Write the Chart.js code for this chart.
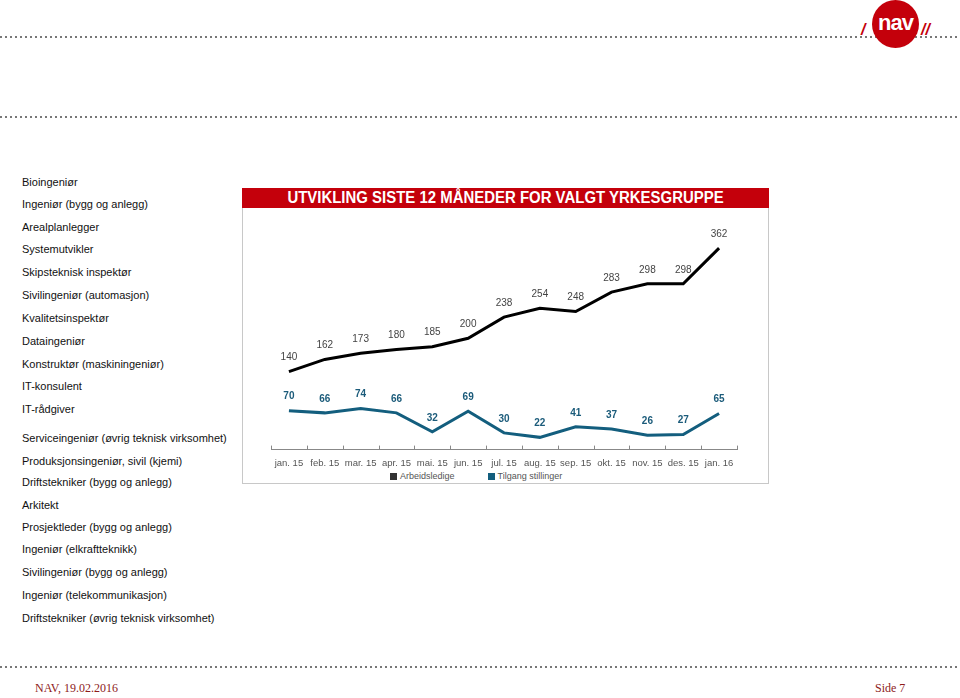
<!DOCTYPE html>
<html>
<head>
<meta charset="utf-8">
<script src="https://cdn.jsdelivr.net/npm/chart.js@4.4.1/dist/chart.umd.min.js"></script>
<style>
    html, body {margin: 0; padding: 0; background: #fff;}
    body {width: 960px; height: 698px; position: relative; overflow: hidden; font-family: "Liberation Sans", Arial, sans-serif;}
    .dots {position: absolute; left: 0; width: 960px; height: 2px;
        background-image: linear-gradient(to right, #777 2px, transparent 2px); background-size: 5px 2px;}
    .list {position: absolute; left: 22px; top: 0; font-size: 11px; color: #111;}
    .list div {position: absolute; left: 0; white-space: nowrap;}
    .box {position: absolute; left: 242px; top: 188px; width: 525px; height: 295px; border: 1px solid #c8c8c8; border-top: none;}
    .title {position: absolute; left: 242px; top: 188px; width: 527px; height: 20px; background: #c4000b;
        color: #fff; font-weight: bold; font-size: 16px; line-height: 20px; text-align: center;}
    .title span {display: inline-block; transform: scaleX(0.934);}
    .chartwrap {position: absolute; left: 243px; top: 209px; width: 524px; height: 260px;}
    .legend {position: absolute; left: 390px; top: 470px; display: flex; gap: 33px; font-size: 9px; color: #555; line-height: 12px;}
    .legend .item {display: flex; align-items: center; white-space: nowrap;}
    .legend .swatch {width: 7px; height: 7px; margin-right: 3px;}
    .footer {position: absolute; top: 681px; font-family: "Liberation Serif", serif; font-size: 12px; color: #8e1b1b;}
    .logo {position: absolute; left: 872px; top: 0; width: 47px; height: 48px; border-radius: 50%; background: #c4000b;}
    .logo span {position: absolute; left: 0; width: 47px; top: 13px; text-align: center; color: #fff; font-weight: bold; font-size: 22px; line-height: 20px; letter-spacing: -1px;}
    .slash {position: absolute; top: 21px; color: #c4000b; font-weight: bold; font-style: italic; font-size: 16px;}
</style>
</head>
<body>
<div class="dots" style="top: 36px"></div>
<div class="dots" style="top: 116px"></div>
<div class="dots" style="top: 666px"></div>

<div class="slash" style="left: 861px">/</div>
<div class="logo"><span>nav</span></div>
<div class="slash" style="left: 921px">//</div>

<div class="list" id="list"></div>

<div class="box"></div>
<div class="title"><span>UTVIKLING SISTE 12 MÅNEDER FOR VALGT YRKESGRUPPE</span></div>
<div class="chartwrap"><canvas id="chart"></canvas></div>
<div class="legend" id="legend"></div>

<div class="footer" style="left: 35px">NAV, 19.02.2016</div>
<div class="footer" style="left: 875px">Side 7</div>

<script>
    // occupations listed to the left of the chart
    const occupations = [
        'Bioingeniør',
        'Ingeniør (bygg og anlegg)',
        'Arealplanlegger',
        'Systemutvikler',
        'Skipsteknisk inspektør',
        'Sivilingeniør (automasjon)',
        'Kvalitetsinspektør',
        'Dataingeniør',
        'Konstruktør (maskiningeniør)',
        'IT-konsulent',
        'IT-rådgiver',
        'Serviceingeniør (øvrig teknisk virksomhet)',
        'Produksjonsingeniør, sivil (kjemi)',
        'Driftstekniker (bygg og anlegg)',
        'Arkitekt',
        'Prosjektleder (bygg og anlegg)',
        'Ingeniør (elkraftteknikk)',
        'Sivilingeniør (bygg og anlegg)',
        'Ingeniør (telekommunikasjon)',
        'Driftstekniker (øvrig teknisk virksomhet)'
    ]
    const occupationRows = [176, 198, 221, 243, 266, 289, 312, 335, 358, 380, 403, 432, 455, 476, 499, 521, 543, 566, 589, 612]

    const months = ['jan. 15', 'feb. 15', 'mar. 15', 'apr. 15', 'mai. 15', 'jun. 15', 'jul. 15',
        'aug. 15', 'sep. 15', 'okt. 15', 'nov. 15', 'des. 15', 'jan. 16']
    const arbeidsledige = [140, 162, 173, 180, 185, 200, 238, 254, 248, 283, 298, 298, 362]
    const tilgangStillinger = [70, 66, 74, 66, 32, 69, 30, 22, 41, 37, 26, 27, 65]

    const list = document.getElementById('list')
    occupations.forEach((name, idx) => {
        const row = document.createElement('div')
        row.textContent = name
        row.style.top = occupationRows[idx] + 'px'
        list.appendChild(row)
    })

    const FONT = '"Liberation Sans", Arial, sans-serif'

    // value labels above every point
    const pointLabels = {
        id: 'pointLabels',
        afterDatasetsDraw(chart) {
            const ctx = chart.ctx
            ctx.save()
            ctx.textAlign = 'center'
            ctx.textBaseline = 'middle'
            chart.data.datasets.forEach((ds, i) => {
                const meta = chart.getDatasetMeta(i)
                ctx.font = (ds.labelBold ? 'bold ' : '') + '10px ' + FONT
                ctx.fillStyle = ds.labelColor
                meta.data.forEach((pt, j) => {
                    ctx.fillText(ds.data[j], pt.x, pt.y - 14)
                })
            })
            ctx.restore()
        }
    }

    // small upward ticks on the category boundaries
    const axisTicks = {
        id: 'axisTicks',
        afterDraw(chart) {
            const x = chart.scales.x
            const ctx = chart.ctx
            const step = x.getPixelForValue(1) - x.getPixelForValue(0)
            ctx.save()
            ctx.strokeStyle = '#888'
            ctx.lineWidth = 1
            ctx.beginPath()
            for (let i = 0; i <= months.length; i++) {
                const px = Math.round(x.getPixelForValue(i) - step / 2) + 0.5
                ctx.moveTo(px, x.top)
                ctx.lineTo(px, x.top - 4)
            }
            ctx.stroke()
            ctx.restore()
        }
    }

    // legend built as html from the chart's own legend items
    const htmlLegend = {
        id: 'htmlLegend',
        afterUpdate(chart) {
            const box = document.getElementById('legend')
            box.innerHTML = ''
            const items = chart.options.plugins.legend.labels.generateLabels(chart)
            items.forEach(item => {
                const el = document.createElement('div')
                el.className = 'item'
                const swatch = document.createElement('span')
                swatch.className = 'swatch'
                swatch.style.background = item.fillStyle
                const text = document.createElement('span')
                text.textContent = item.text
                el.appendChild(swatch)
                el.appendChild(text)
                box.appendChild(el)
            })
        }
    }

    new Chart(document.getElementById('chart'), {
        type: 'line',
        data: {
            labels: months,
            datasets: [
                {
                    label: 'Arbeidsledige',
                    data: arbeidsledige,
                    borderColor: '#000',
                    backgroundColor: '#333',
                    borderWidth: 3,
                    pointRadius: 0,
                    tension: 0,
                    labelColor: '#444',
                    labelBold: false
                },
                {
                    label: 'Tilgang stillinger',
                    data: tilgangStillinger,
                    borderColor: '#135e7e',
                    backgroundColor: '#135e7e',
                    borderWidth: 3,
                    pointRadius: 0,
                    tension: 0,
                    labelColor: '#1b5b7a',
                    labelBold: true
                }
            ]
        },
        options: {
            responsive: true,
            maintainAspectRatio: false,
            animation: false,
            layout: {padding: {left: 28, right: 30, top: 18, bottom: 0}},
            scales: {
                x: {
                    offset: true,
                    grid: {display: false},
                    border: {display: true, color: '#888', width: 1},
                    ticks: {
                        color: '#555',
                        font: {family: FONT, size: 9.5},
                        padding: 0,
                        autoSkip: false,
                        maxRotation: 0
                    }
                },
                y: {
                    display: false,
                    min: 0,
                    max: 400
                }
            },
            plugins: {
                legend: {display: false},
                tooltip: {enabled: false}
            }
        },
        plugins: [pointLabels, axisTicks, htmlLegend]
    })
</script>
</body>
</html>
